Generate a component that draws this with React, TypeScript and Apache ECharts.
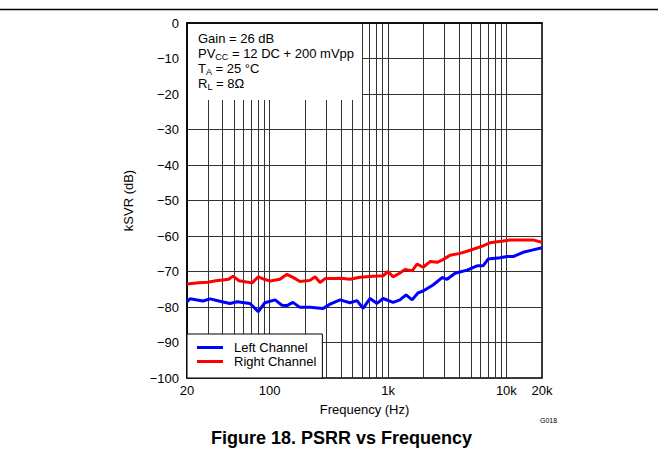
import React, { useEffect, useRef } from "react";
import * as echarts from "echarts";

const leftFreq = [20, 21.2, 27.3, 31.3, 38, 46, 53, 68, 80, 91, 111, 127, 140, 157, 180, 219, 282, 324, 393, 477, 547, 615, 705, 807, 908, 1102, 1262, 1420, 1596, 1795, 1978, 2400, 2863, 3155, 3683, 4656, 5650, 6355, 7000, 8850, 10140, 11400, 13840, 16820, 20000];
const leftDb = [-78.5, -77.7, -78.3, -77.7, -78.4, -79.0, -78.5, -79.0, -81.3, -78.8, -78.0, -79.5, -79.6, -78.7, -80.1, -80.1, -80.4, -79.2, -78.0, -78.8, -78.2, -80.4, -77.6, -79.0, -77.6, -78.7, -78.0, -76.6, -78.0, -76.0, -75.5, -73.8, -71.7, -72.2, -70.5, -69.6, -68.4, -68.4, -66.5, -66.1, -65.8, -65.8, -64.6, -63.9, -63.3];

const rightFreq = [20, 25, 30, 35, 40, 45, 49, 55, 60, 71, 80, 90, 101, 122, 140, 160, 180, 219, 242, 266, 294, 350, 400, 477, 580, 700, 800, 908, 1000, 1102, 1250, 1393, 1596, 1758, 1978, 2265, 2595, 2863, 3346, 4064, 4934, 6355, 7280, 9380, 10740, 13000, 16820, 20000];
const rightDb = [-73.5, -73.2, -73.0, -72.6, -72.4, -72.2, -71.3, -72.6, -72.8, -73.2, -71.5, -72.2, -72.7, -72.2, -70.8, -71.8, -72.8, -72.5, -71.5, -73.1, -72.0, -72.0, -71.9, -72.2, -71.6, -71.4, -71.3, -71.2, -70.0, -71.5, -70.5, -69.4, -69.8, -67.9, -68.8, -67.2, -67.4, -66.8, -65.4, -64.9, -64.0, -62.8, -61.9, -61.4, -61.1, -61.1, -61.1, -61.8];

const xGridValues = [20, 30, 40, 50, 60, 70, 80, 90, 100, 200, 300, 400, 500, 600, 700, 800, 900, 1000, 2000, 3000, 4000, 5000, 6000, 7000, 8000, 9000, 10000, 20000];
const xLabelValues = [20, 100, 1000, 10000, 20000];
const xLabelText: Record<number, string> = { 20: "20", 100: "100", 1000: "1k", 10000: "10k", 20000: "20k" };

const seriesNames = ["Left Channel", "Right Channel"];
const annotationLines = [
  "Gain = 26 dB",
  "PV{sub|CC} = 12 DC + 200 mVpp",
  "T{sub|A} = 25 °C",
  "R{sub|L} = 8Ω",
];

const FONT = "'Liberation Sans', Arial, Helvetica, sans-serif";

export default function App() {
  const ref = useRef<HTMLDivElement>(null);
  useEffect(() => {
    document.body.style.margin = "0";
    const chart = echarts.init(ref.current!, null, { renderer: "svg" });
    const zip = (f: number[], v: number[]) => f.map((x, i) => [x, v[i]]);
    chart.setOption({
      animation: false,
      backgroundColor: "#fff",
      textStyle: { fontFamily: FONT },
      grid: {
        left: 187,
        top: 23,
        right: 116,
        bottom: 83,
        show: true,
        borderColor: "#000",
        borderWidth: 1.5,
        backgroundColor: "transparent",
      },
      title: [
        {
          text: "Figure 18. PSRR vs Frequency",
          left: 206,
          top: 424,
          textStyle: { fontFamily: FONT, fontSize: 18, fontWeight: "bold", color: "#000" },
        },
      ],
      legend: {
        data: seriesNames,
        orient: "vertical",
        left: 187,
        bottom: 83,
        icon: "rect",
        itemWidth: 26,
        itemHeight: 3,
        itemGap: 1,
        padding: [7, 6, 10, 10],
        backgroundColor: "#fff",
        borderColor: "#000",
        borderWidth: 1,
        borderRadius: 0,
        textStyle: { fontFamily: FONT, fontSize: 13, color: "#000", padding: [0, 0, 0, 6] },
      },
      xAxis: {
        type: "log",
        logBase: 10,
        min: 20,
        max: 20000,
        name: "Frequency (Hz)",
        nameLocation: "middle",
        nameGap: 25,
        nameTextStyle: { fontFamily: FONT, fontSize: 13, color: "#000" },
        axisLine: { show: true, lineStyle: { color: "#000", width: 1.5 } },
        axisTick: { show: false, customValues: xGridValues },
        axisLabel: {
          customValues: xLabelValues,
          formatter: (v: number) => xLabelText[Math.round(v)] ?? String(v),
          fontFamily: FONT,
          fontSize: 13,
          color: "#000",
          margin: 6,
        },
        splitLine: { show: true, lineStyle: { color: "#333", width: 1 } },
        minorSplitLine: { show: false },
      },
      yAxis: {
        type: "value",
        min: -100,
        max: 0,
        interval: 10,
        name: "kSVR (dB)",
        nameLocation: "middle",
        nameGap: 52,
        nameTextStyle: { fontFamily: FONT, fontSize: 13, color: "#000" },
        axisLine: { show: true, lineStyle: { color: "#000", width: 1.5 } },
        axisTick: { show: false },
        axisLabel: {
          formatter: (v: number) => String(v).replace("-", "\u2212"),
          fontFamily: FONT,
          fontSize: 13,
          color: "#000",
          margin: 8,
        },
        splitLine: { show: true, lineStyle: { color: "#333", width: 1 } },
      },
      series: [
        {
          name: seriesNames[0],
          type: "line",
          data: zip(leftFreq, leftDb),
          showSymbol: false,
          lineStyle: { color: "#0000ff", width: 3 },
          itemStyle: { color: "#0000ff" },
          z: 3,
        },
        {
          name: seriesNames[1],
          type: "line",
          data: zip(rightFreq, rightDb),
          showSymbol: false,
          lineStyle: { color: "#ff0000", width: 3 },
          itemStyle: { color: "#ff0000" },
          z: 3,
        },
      ],
      graphic: [
        {
          type: "line",
          shape: { x1: 0, y1: 9.5, x2: 658, y2: 9.5 },
          style: { stroke: "#000", lineWidth: 1.5 },
          z: 10,
        },
        {
          type: "rect",
          shape: { x: 188, y: 24, width: 174, height: 76 },
          style: { fill: "#fff" },
          z: 5,
        },
        {
          type: "text",
          x: 198,
          y: 31,
          z: 6,
          style: {
            text: annotationLines.join("\n"),
            fill: "#000",
            font: `13px ${FONT}`,
            lineHeight: 15,
            rich: {
              sub: { fontSize: 9, lineHeight: 9, verticalAlign: "bottom", fontFamily: FONT, fill: "#000" },
            },
          },
        },
        {
          type: "text",
          x: 540,
          y: 417,
          z: 6,
          style: { text: "G018", fill: "#000", font: `7px ${FONT}` },
        },
      ],
    });
    return () => chart.dispose();
  }, []);
  return <div ref={ref} style={{ width: 658, height: 461 }} />;
}
